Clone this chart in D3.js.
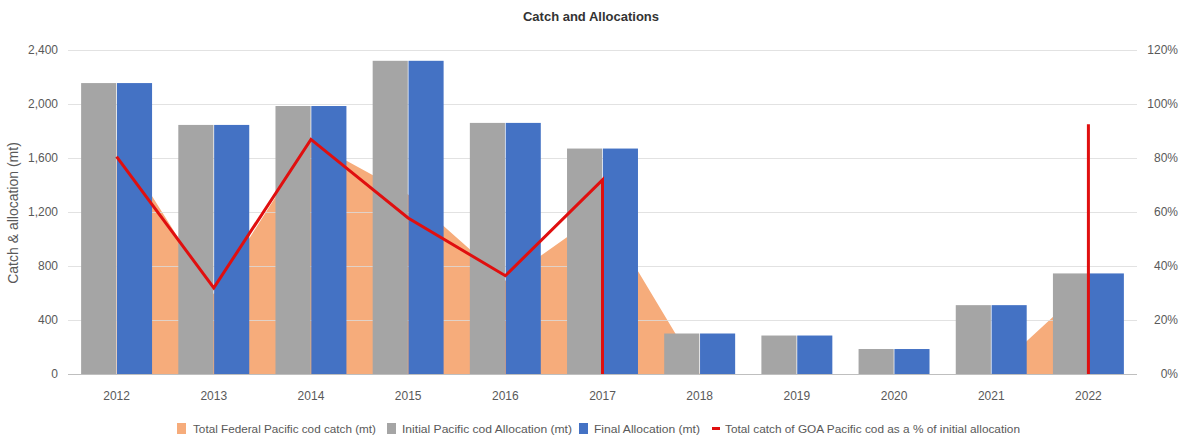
<!DOCTYPE html>
<html>
<head>
<meta charset="utf-8">
<script src="https://cdn.jsdelivr.net/npm/d3@7"></script>
<style>
  html, body { margin: 0; padding: 0; background: #fff; }
  svg { display: block; font-family: "Liberation Sans", Arial, sans-serif; }
</style>
</head>
<body>
<svg id="chart" width="1183" height="439"></svg>
<script>
// ---- data ----
const years = ["2012","2013","2014","2015","2016","2017","2018","2019","2020","2021","2022"];
const initialAllocation = [2155, 1845, 1985, 2320, 1860, 1670, 300, 285, 185, 510, 745];
const finalAllocation   = [2155, 1845, 1985, 2320, 1860, 1670, 300, 285, 185, 510, 745];
const federalCatch      = [1735, 590, 1725, 1330, 690, 1200, 0, 0, 0, 0, 665];
// red line points (category, percent); null breaks the line
const pctYears  = ["2012","2013","2014","2015","2016","2017","2017", null, "2022","2022"];
const pctValues = [80.5, 31.9, 86.9, 57.8, 36.4, 71.9, 0, null, 0, 92.5];
const leftTicks  = [0, 400, 800, 1200, 1600, 2000, 2400];
const rightTicks = [0, 20, 40, 60, 80, 100, 120];
const seriesNames = ["Total Federal Pacific cod catch (mt)", "Initial Pacific cod Allocation (mt)",
                     "Final Allocation (mt)", "Total catch of GOA Pacific cod as a % of initial allocation"];

// ---- layout ----
const colors = { catch: "#F6AC7B", initial: "#A5A5A5", final: "#4472C4", pct: "#E00F0F" };
const L = 68, R = 1137, T = 50, B = 374;
const svg = d3.select("#chart");

const x = d3.scaleBand().domain(years).range([L, R]).padding(0);
const bw = x.bandwidth();
const x1 = d3.scaleBand().domain(["initial","final"]).range([bw*0.135, bw*0.865]).paddingInner(0.02);
const y = d3.scaleLinear().domain([0, 2400]).range([B, T]);
const y2 = d3.scaleLinear().domain([0, 120]).range([B, T]);
const cx = yr => x(yr) + bw / 2;

// title
svg.append("text").attr("x", 591).attr("y", 21).attr("text-anchor", "middle")
  .attr("font-size", 13).attr("font-weight", "bold").attr("fill", "#333")
  .text("Catch and Allocations");

// area
const areaData = years.map((yr, i) => ({ yr, v: federalCatch[i] }));
svg.append("path").datum(areaData)
  .attr("fill", colors.catch)
  .attr("d", d3.area().x(d => cx(d.yr)).y0(y(0)).y1(d => y(d.v)));

// gridlines
svg.append("g").selectAll("line").data(leftTicks.filter(t => t > 0)).join("line")
  .attr("x1", L).attr("x2", R).attr("y1", d => y(d) + 0.5).attr("y2", d => y(d) + 0.5)
  .attr("stroke", "#DCDCDC").attr("stroke-width", 1).attr("opacity", 0.8);

// bars
const groups = svg.append("g").selectAll("g").data(years).join("g")
  .attr("transform", d => `translate(${x(d)},0)`);
groups.append("rect")
  .attr("x", x1("initial")).attr("width", x1.bandwidth())
  .attr("y", (d, i) => y(initialAllocation[i])).attr("height", (d, i) => y(0) - y(initialAllocation[i]))
  .attr("fill", colors.initial);
groups.append("rect")
  .attr("x", x1("final")).attr("width", x1.bandwidth())
  .attr("y", (d, i) => y(finalAllocation[i])).attr("height", (d, i) => y(0) - y(finalAllocation[i]))
  .attr("fill", colors.final);

// bottom axis line
svg.append("line").attr("x1", L).attr("x2", R).attr("y1", B + 0.5).attr("y2", B + 0.5)
  .attr("stroke", "#BFBFBF").attr("stroke-width", 1);

// red line
const pctData = pctYears.map((yr, i) => ({ yr, v: pctValues[i] }));
svg.append("path").datum(pctData)
  .attr("fill", "none").attr("stroke", colors.pct).attr("stroke-width", 3)
  .attr("stroke-linejoin", "miter")
  .attr("d", d3.line().defined(d => d.yr !== null && d.v !== null)
    .x(d => cx(d.yr)).y(d => y2(d.v)));

// axes
const axisColor = "#595959";
const xAxis = svg.append("g").attr("transform", `translate(0,${B})`)
  .call(d3.axisBottom(x).tickSize(0).tickPadding(17));
const yAxis = svg.append("g").attr("transform", `translate(${L},0)`)
  .call(d3.axisLeft(y).tickValues(leftTicks).tickFormat(d3.format(",")).tickSize(0).tickPadding(10));
const y2Axis = svg.append("g").attr("transform", `translate(${R},0)`)
  .call(d3.axisRight(y2).tickValues(rightTicks).tickFormat(d => d + "%").tickSize(0).tickPadding(12));
[xAxis, yAxis, y2Axis].forEach(g => {
  g.select(".domain").remove();
  g.selectAll("text").attr("font-size", 12).attr("fill", axisColor)
    .attr("font-family", "Liberation Sans, Arial, sans-serif");
});
y2Axis.selectAll("text").attr("text-anchor", "end").attr("dx", 29);

// left axis title
svg.append("text").attr("transform", "translate(18,213) rotate(-90)")
  .attr("text-anchor", "middle").attr("font-size", 14).attr("fill", axisColor)
  .text("Catch & allocation (mt)");

// legend
const legendItems = [
  { name: seriesNames[0], color: colors.catch, sx: 177, tx: 193, tw: 183, type: "sq" },
  { name: seriesNames[1], color: colors.initial, sx: 387, tx: 402, tw: 170, type: "sq" },
  { name: seriesNames[2], color: colors.final, sx: 579, tx: 594, tw: 106, type: "sq" },
  { name: seriesNames[3], color: colors.pct, sx: 712, tx: 725, tw: 295, type: "dash" }
];
const lg = svg.append("g");
legendItems.forEach(it => {
  if (it.type === "sq") {
    lg.append("rect").attr("x", it.sx).attr("y", 423).attr("width", 9).attr("height", 11).attr("fill", it.color);
  } else {
    lg.append("rect").attr("x", it.sx).attr("y", 427).attr("width", 8).attr("height", 3).attr("fill", it.color);
  }
  lg.append("text").attr("x", it.tx).attr("y", 433).attr("font-size", 11.5).attr("fill", axisColor)
    .attr("textLength", it.tw).attr("lengthAdjust", "spacingAndGlyphs").text(it.name);
});
</script>
</body>
</html>
